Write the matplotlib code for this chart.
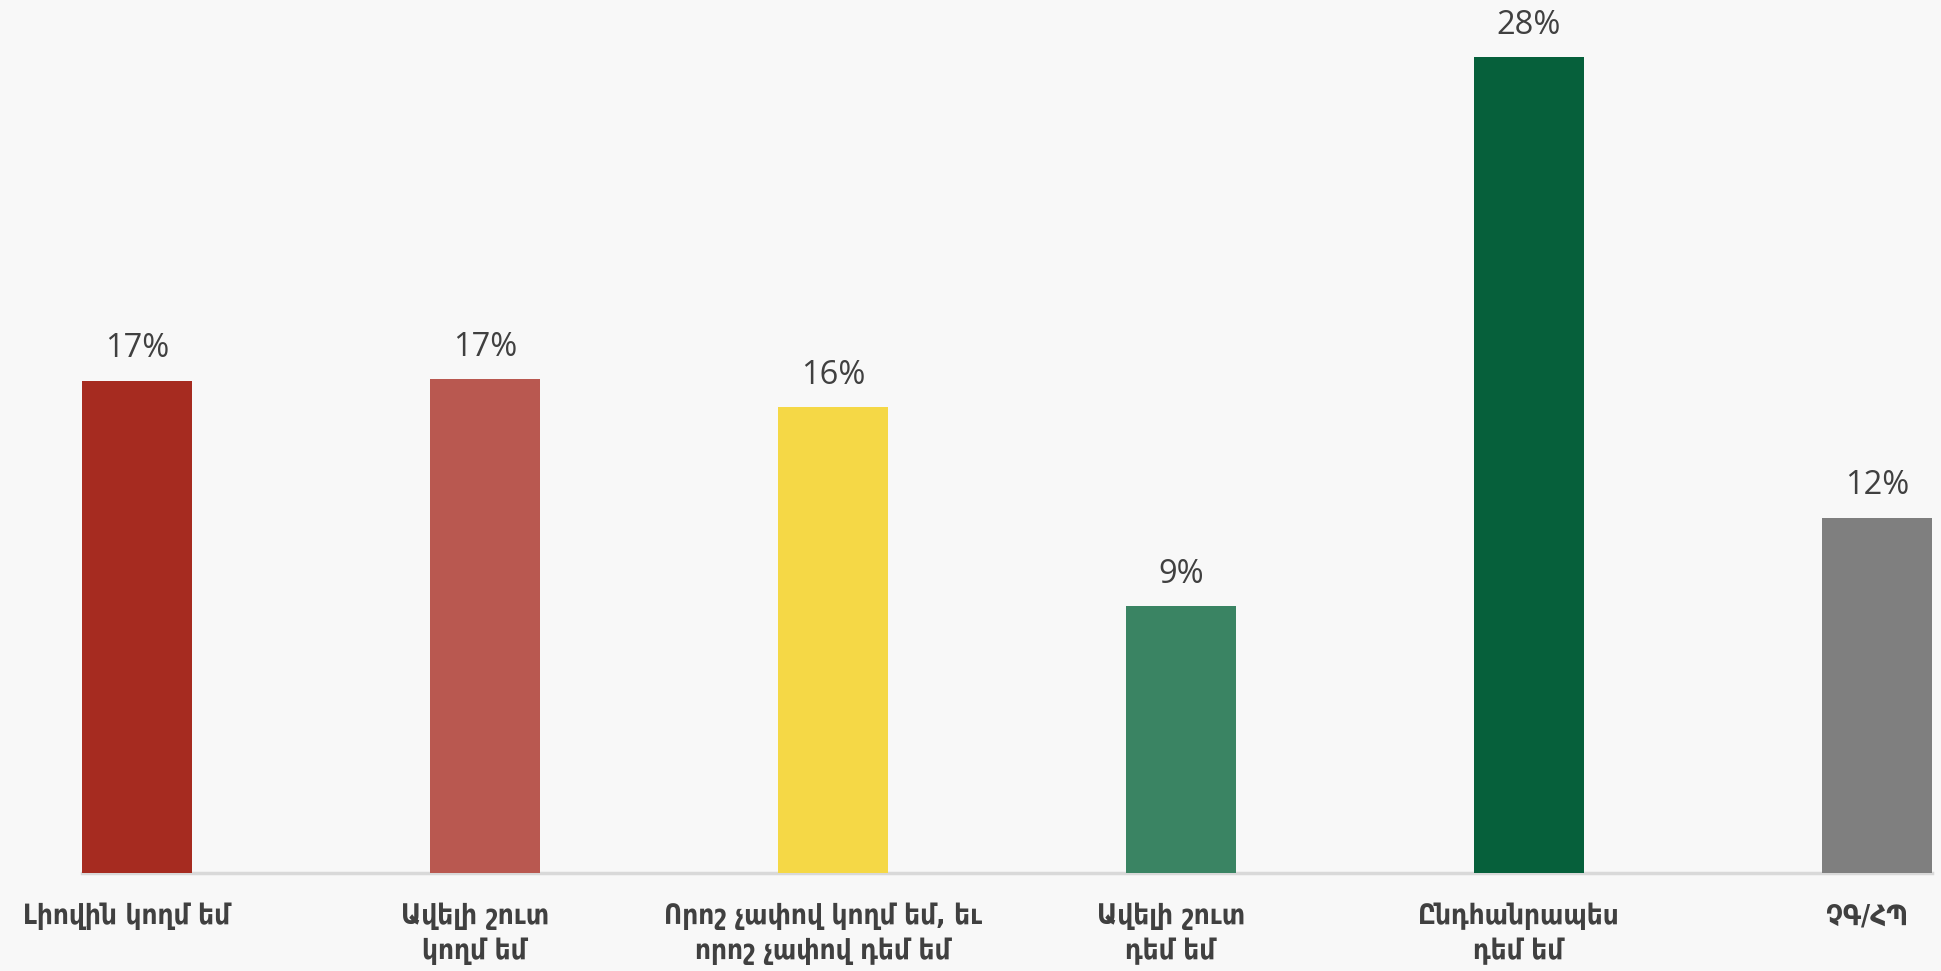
import matplotlib
matplotlib.use("Agg")
import matplotlib.pyplot as plt

categories = ["Լիովին կողմ եմ", "Ավելի շուտ\nկողմ եմ", "Որոշ չափով կողմ եմ, եւ\nորոշ չափով դեմ եմ",
              "Ավելի շուտ\nդեմ եմ", "Ընդհանրապես\nդեմ եմ", "ՉԳ/ՀՊ"]
values = [16.9, 16.95, 16.0, 9.15, 28.0, 12.2]
labels = ["17%", "17%", "16%", "9%", "28%", "12%"]
colors = ["#a62b20", "#b95850", "#f5d846", "#3a8463", "#06603b", "#7f7f7f"]

bg = "#f8f8f8"
fig = plt.figure(figsize=(19.41, 9.71), dpi=100, facecolor=bg)
ax = fig.add_axes([0, 98 / 971, 1, 873 / 971], facecolor=bg)

x = list(range(len(values)))
w = 0.316
ax.bar(x, values, width=w, color=colors, zorder=2)
ax.plot([-w / 2, x[-1] + w / 2], [0, 0], color="#d9d9d9", lw=2.5, zorder=1, clip_on=False)

for xi, v, lab in zip(x, values, labels):
    ax.annotate(lab, (xi, v), xytext=(0, 11), textcoords="offset points",
                ha="center", va="bottom", fontsize=23.5, color="#404040",
                family=["Open Sans", "DejaVu Sans"])

for xi, cat in zip(x, categories):
    ax.text(xi - 0.03, -1.0, cat, ha="center", va="top", fontsize=20, fontweight="bold",
            color="#404040", linespacing=1.3, fontstretch="condensed",
            family=["DejaVu Sans"], clip_on=False)

ax.set_xlim(-0.394, 5.184)
ax.set_ylim(0, 29.96)
ax.axis("off")

fig.savefig("out.png", dpi=100, facecolor=bg)
